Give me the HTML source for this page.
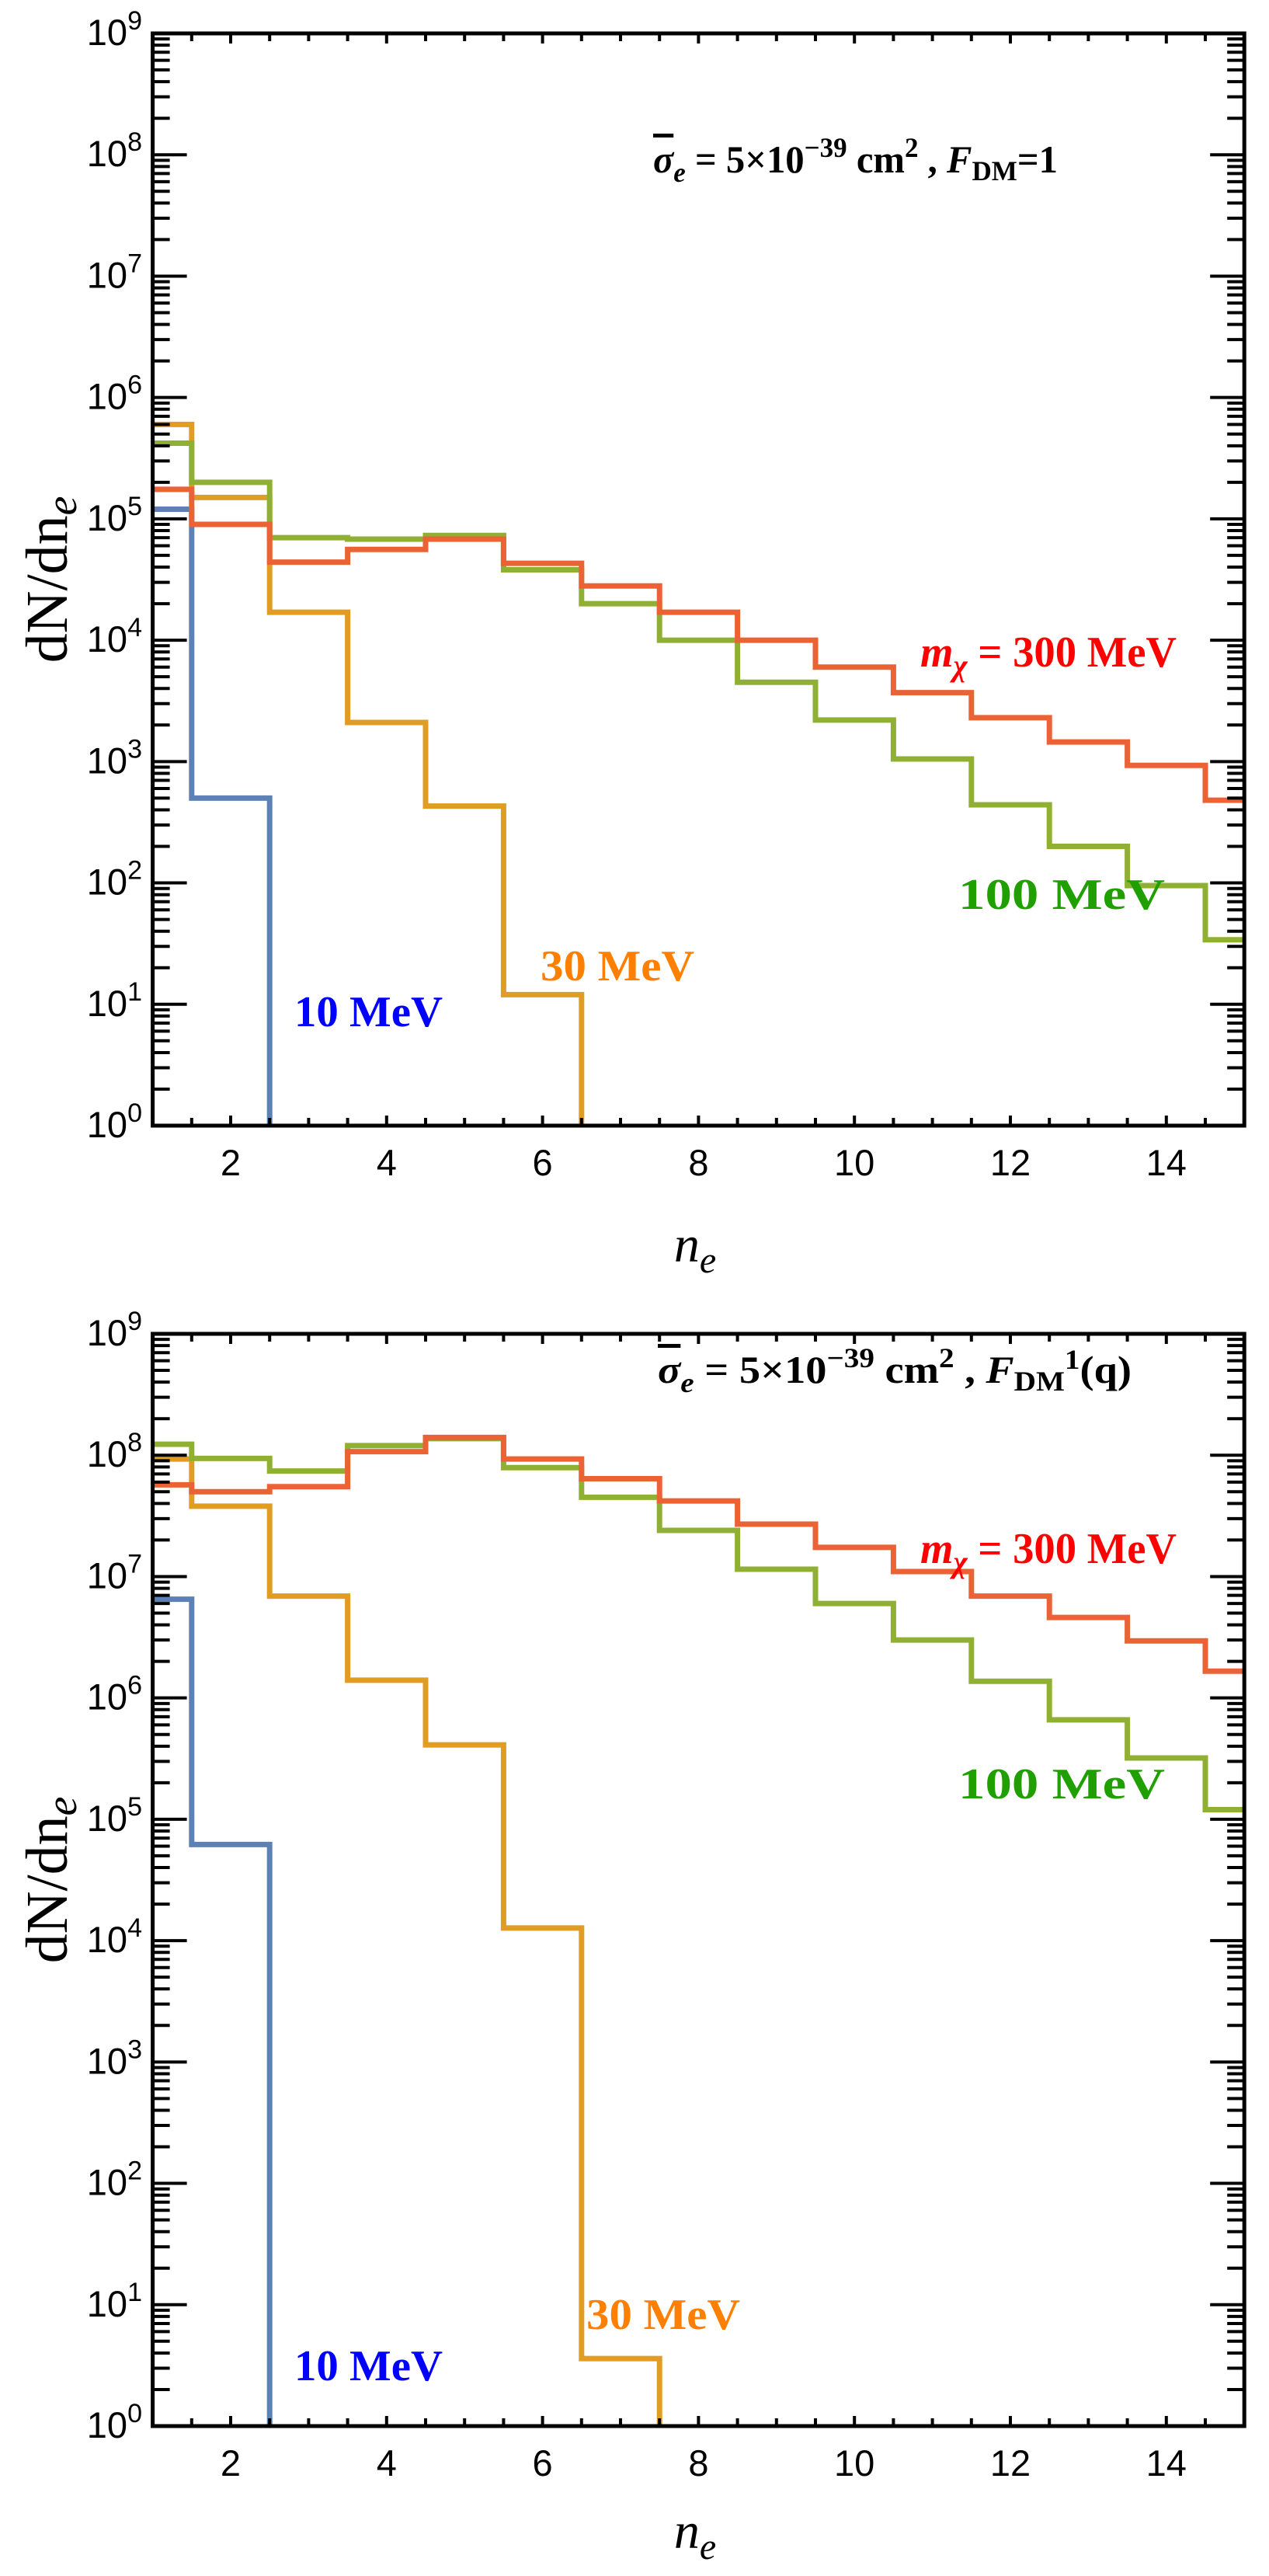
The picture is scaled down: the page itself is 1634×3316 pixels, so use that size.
<!DOCTYPE html>
<html><head><meta charset="utf-8"><style>
html,body{margin:0;padding:0;background:#fff;}
svg{display:block;}
text{font-family:"Liberation Serif",serif;}
.tick{font-family:"Liberation Sans",sans-serif;font-size:47px;}
</style></head><body>
<svg id="chart" width="1634" height="3316" viewBox="0 0 1634 3316" xmlns="http://www.w3.org/2000/svg"></svg>
<script>
// bins n_e = 1..15
const bins = [1,2,3,4,5,6,7,8,9,10,11,12,13,14,15];
const xTicks = [2,4,6,8,10,12,14];
const yTicks = [0,1,2,3,4,5,6,7,8,9];
// top panel (F_DM = 1)
const topBlue   = [1.2e5, 5e2];
const topOrange = [6e5, 1.5e5, 1.7e4, 2.1e3, 4.3e2, 12];
const topGreen  = [4.2e5, 2e5, 7e4, 6.8e4, 7.3e4, 3.8e4, 2e4, 1e4, 4.5e3, 2.2e3, 1.05e3, 4.4e2, 2e2, 9.5e1, 3.4e1];
const topRed    = [1.75e5, 9e4, 4.4e4, 5.6e4, 6.8e4, 4.3e4, 2.8e4, 1.7e4, 1e4, 6e3, 3.7e3, 2.3e3, 1.45e3, 9.3e2, 4.8e2];
// bottom panel (F_DM^1(q))
const botBlue   = [6.5e6, 6.2e4];
const botOrange = [9.3e7, 3.8e7, 6.9e6, 1.4e6, 4.1e5, 1.27e4, 3.6];
const botGreen  = [1.23e8, 9.4e7, 7.4e7, 1.2e8, 1.37e8, 7.9e7, 4.5e7, 2.4e7, 1.15e7, 6e6, 3e6, 1.37e6, 6.6e5, 3.2e5, 1.2e5];
const botRed    = [5.7e7, 5e7, 5.5e7, 1.07e8, 1.4e8, 9.3e7, 6.4e7, 4.2e7, 2.7e7, 1.74e7, 1.1e7, 6.9e6, 4.6e6, 2.95e6, 1.66e6];

const NS = "http://www.w3.org/2000/svg";
const svg = document.getElementById('chart');
function mk(tag, attrs, parent){ const e=document.createElementNS(NS,tag); for(const k in attrs) e.setAttribute(k,attrs[k]); (parent||svg).appendChild(e); return e; }

const X0=196.6, XU=100.4;
function xs(v){ return X0+(v-1)*XU; }

function panel(top, bottom, xTitleY, series, name, labels){
  const g = mk('g',{});
  
  
  const dec=(bottom-top)/9;
  const ys = v => bottom - Math.log10(v)*dec;
  const L=xs(1), R=xs(15);
  series.forEach(s=>{
    let d='';
    const vals=s.vals;
    vals.forEach((v,i)=>{
      const n=bins[i];
      const a=Math.max(1,n-0.5), b=Math.min(15,n+0.5);
      const y=Math.max(top, ys(v));
      d += (i===0?'M':'L')+xs(a)+' '+y+' L'+xs(b)+' '+y+' ';
    });
    if(vals.length<bins.length){ const b=bins[vals.length-1]+0.5; d+='L'+xs(b)+' '+bottom; }
    const p=mk('path',{d:d,fill:'none',stroke:s.color,'stroke-width':7,'stroke-linejoin':'miter'},g);
    
    
  });
  let td='';
  for(let x=1;x<=15;x+=0.5){
    const major = (x%2===0);
    const len = major?13:10;
    td += `M${xs(x)} ${bottom} v${-len} M${xs(x)} ${top} v${len} `;
  }
  for(let e=0;e<=9;e++){
    const y=ys(Math.pow(10,e));
    td += `M${L} ${y} h44 M${R} ${y} h-44 `;
    if(e<9) for(let m=2;m<=9;m++){ const yy=ys(m*Math.pow(10,e)); td+=`M${L} ${yy} h22 M${R} ${yy} h-22 `; }
  }
  const tk=mk('path',{d:td,stroke:'#000','stroke-width':4,fill:'none'},g);
  
  
  const fr=mk('rect',{x:L,y:top,width:R-L,height:bottom-top,fill:'none',stroke:'#000','stroke-width':5},g);
  
  
  xTicks.forEach(v=>{
    const t=mk('text',{x:xs(v),y:bottom+64,'text-anchor':'middle',class:'tick'},g);
    t.textContent=v;
    
    
  });
  yTicks.forEach(e=>{
    const t=mk('text',{x:183,y:ys(Math.pow(10,e))+15,'text-anchor':'end',class:'tick'},g);
    
    
    const a=mk('tspan',{},t); a.textContent='10';
    const b=mk('tspan',{dy:-20,'font-size':'34px'},t); b.textContent=e;
  });
  const yt=mk('text',{x:0,y:0,transform:`translate(86 ${(top+bottom)/2}) rotate(-90)`,'text-anchor':'middle','font-size':'76px'},g);
  
  
  yt.innerHTML='dN/dn<tspan font-style="italic" font-size="56px" dy="12">e</tspan>';
  const xt=mk('text',{x:895,y:xTitleY,'text-anchor':'middle','font-size':'66px','font-style':'italic'},g);
  
  
  xt.innerHTML='n<tspan font-size="48px" dy="14">e</tspan>';
  labels.forEach(l=>{
    const t=mk('text',{x:l.x,y:l.y,fill:l.c,'font-size':l.fs||'56px','font-weight':'bold',textLength:l.w,lengthAdjust:'spacingAndGlyphs'},g);
    
    
    t.innerHTML=l.h;
  });
}

const sigTop='<tspan font-style="italic" text-decoration="overline">σ</tspan><tspan font-style="italic" font-size="36px" dy="12">e</tspan><tspan dy="-12"> = 5×10</tspan><tspan font-size="36px" dy="-20">−39</tspan><tspan dy="20"> cm</tspan><tspan font-size="36px" dy="-20">2</tspan><tspan dy="20"> , </tspan><tspan font-style="italic">F</tspan><tspan font-size="36px" dy="10">DM</tspan><tspan dy="-10">=1</tspan>';
const sigBot='<tspan font-style="italic" text-decoration="overline">σ</tspan><tspan font-style="italic" font-size="36px" dy="12">e</tspan><tspan dy="-12"> = 5×10</tspan><tspan font-size="36px" dy="-20">−39</tspan><tspan dy="20"> cm</tspan><tspan font-size="36px" dy="-20">2</tspan><tspan dy="20"> , </tspan><tspan font-style="italic">F</tspan><tspan font-size="36px" dy="10">DM</tspan><tspan font-size="36px" dy="-28">1</tspan><tspan dy="18">(q)</tspan>';
const mchi='<tspan font-style="italic">m</tspan><tspan font-style="italic" font-size="40px" dy="12">χ</tspan><tspan dy="-12"> = 300 MeV</tspan>';

panel(43,1449,1624,[
  {vals:topBlue,color:'#5E81B5',name:'series-10mev'},
  {vals:topOrange,color:'#E19C24',name:'series-30mev'},
  {vals:topGreen,color:'#8FB032',name:'series-100mev'},
  {vals:topRed,color:'#EB6235',name:'series-300mev'}],'top-panel',[
  {x:841,y:222,w:521,fs:'50px',c:'#000',h:sigTop,n:'cross-section-annotation'},
  {x:1185,y:858,w:330,c:'#FF0000',h:mchi,n:'label-300mev'},
  {x:1234,y:1170,w:266,c:'#20A000',h:'100 MeV',n:'label-100mev'},
  {x:696,y:1262,w:198,c:'#FF8000',h:'30 MeV',n:'label-30mev'},
  {x:379,y:1321,w:191,c:'#0000FF',h:'10 MeV',n:'label-10mev'}]);

panel(1717,3123,3280,[
  {vals:botBlue,color:'#5E81B5',name:'series-10mev'},
  {vals:botOrange,color:'#E19C24',name:'series-30mev'},
  {vals:botGreen,color:'#8FB032',name:'series-100mev'},
  {vals:botRed,color:'#EB6235',name:'series-300mev'}],'bottom-panel',[
  {x:847,y:1780,w:610,fs:'50px',c:'#000',h:sigBot,n:'cross-section-annotation'},
  {x:1185,y:2012,w:330,c:'#FF0000',h:mchi,n:'label-300mev'},
  {x:1234,y:2315,w:266,c:'#20A000',h:'100 MeV',n:'label-100mev'},
  {x:755,y:2998,w:198,c:'#FF8000',h:'30 MeV',n:'label-30mev'},
  {x:379,y:3064,w:191,c:'#0000FF',h:'10 MeV',n:'label-10mev'}]);
</script>
</body></html>
